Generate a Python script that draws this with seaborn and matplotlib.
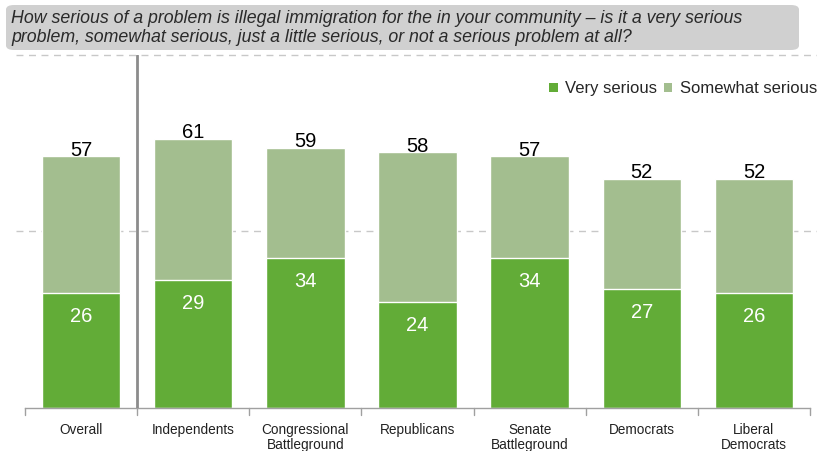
import matplotlib
matplotlib.use("Agg")
import matplotlib.pyplot as plt
from matplotlib.patches import Patch, FancyBboxPatch
import seaborn as sns
import pandas as pd

categories = ["Overall", "Independents", "Congressional\nBattleground", "Republicans",
              "Senate\nBattleground", "Democrats", "Liberal\nDemocrats"]
very_serious = [26, 29, 34, 24, 34, 27, 26]
total_serious = [57, 61, 59, 58, 57, 52, 52]

title = ("How serious of a problem is illegal immigration for the in your community \u2013 is it a very serious\n"
         "problem, somewhat serious, just a little serious, or not a serious problem at all?")

dark = "#62ac37"
light = "#a3be8f"

sns.set_theme(style="white")
plt.rcParams["font.family"] = ["Liberation Sans", "DejaVu Sans"]

df = pd.DataFrame({"cat": categories, "very": very_serious, "total": total_serious})

fig = plt.figure(figsize=(8.17, 4.51), dpi=100)
ax = fig.add_axes([25/817, 1-408/451, (810-25)/817, (408-55)/451])

sns.barplot(data=df, x="cat", y="total", color=light, width=0.7, saturation=1,
            edgecolor="white", linewidth=1, ax=ax)
sns.barplot(data=df, x="cat", y="very", color=dark, width=0.7, saturation=1,
            edgecolor="white", linewidth=1, ax=ax)

ax.set_ylim(0, 80)
ax.set_xlim(-0.5, len(categories) - 0.5)
ax.set_xlabel("")
ax.set_ylabel("")
ax.set_yticks([])
for s in ["top", "right", "left"]:
    ax.spines[s].set_visible(False)
ax.spines["bottom"].set_color("#a0a0a0")
ax.spines["bottom"].set_linewidth(1)

# dashed gridlines
for yv in [40, 80]:
    ax.axhline(yv, xmin=-0.012, xmax=1.01, color="#c8c8c8", linestyle=(0, (5, 4)),
               linewidth=1, clip_on=False, zorder=0)

# category labels and boundary ticks
ax.set_xticks(range(len(categories)))
ax.set_xticklabels(categories, fontsize=9.8, color="#222222", linespacing=1.05)
ax.tick_params(axis="x", length=0, pad=11)
for b in [i - 0.5 for i in range(len(categories) + 1)]:
    ax.plot([b, b], [0, -1.5], color="#a0a0a0", linewidth=1, clip_on=False)

# separator
ax.plot([0.5, 0.5], [0, 80], color="#8c8c8c", linewidth=2, zorder=5)

# value labels
for i, (v, t) in enumerate(zip(very_serious, total_serious)):
    ax.text(i, v - 4.8, str(v), ha="center", va="center_baseline", color="white", fontsize=14.5)
    ax.text(i, t + 0.1, str(t), ha="center", va="baseline", color="black", fontsize=14.5)

# legend
handles = [Patch(facecolor=dark, edgecolor="none", label="Very serious"),
           Patch(facecolor=light, edgecolor="none", label="Somewhat serious")]
fig.legend(handles=handles, loc="center right", bbox_to_anchor=(1.0, 1 - 89/451),
           ncol=2, frameon=False, fontsize=12, handlelength=0.5, handleheight=0.5,
           handletextpad=0.45, columnspacing=0.4, borderaxespad=0.0, borderpad=0.0)

# title box
box = FancyBboxPatch((6/817, 1 - 50/451), (799 - 6)/817, (50 - 5)/451,
                     boxstyle="round,pad=0,rounding_size=0.01",
                     transform=fig.transFigure, facecolor="#d0d0d0", edgecolor="none",
                     zorder=0)
fig.patches.append(box)
fig.text(11/817, 1 - 28/451, title, ha="left", va="center", fontsize=12.8,
         style="italic", color="#2a2a2a", linespacing=1.22)

fig.savefig("out.png", dpi=100)
